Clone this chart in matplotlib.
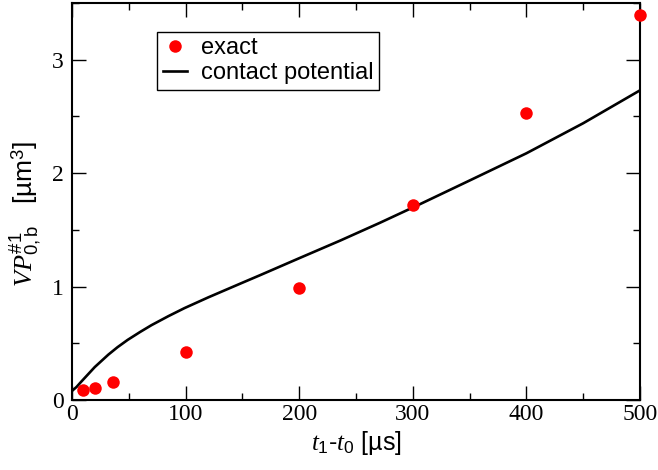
import numpy as np
import matplotlib
matplotlib.use("Agg")
import matplotlib.pyplot as plt
from matplotlib.ticker import MultipleLocator

plt.rcParams["font.family"] = ["Liberation Sans", "DejaVu Sans"]
plt.rcParams["mathtext.fontset"] = "custom"
plt.rcParams["mathtext.rm"] = "Liberation Sans"
plt.rcParams["mathtext.it"] = "Liberation Serif:italic"
plt.rcParams["mathtext.bf"] = "Liberation Sans:bold"

# exact results (red dots)
exact_t = [10, 20, 36, 100, 200, 300, 400, 500]
exact_vp = [0.09, 0.11, 0.16, 0.42, 0.99, 1.72, 2.53, 3.39]

# contact potential curve
contact_t = [0, 4, 8, 14, 20, 26, 32, 40, 49, 60, 70, 85, 99, 120, 130, 150,
             165, 200, 236, 271, 306, 350, 400, 450, 500]
contact_vp = [0.08, 0.115, 0.16, 0.225, 0.29, 0.345, 0.40, 0.465, 0.53, 0.60, 0.66,
              0.74, 0.81, 0.905, 0.948, 1.034, 1.098, 1.25, 1.405, 1.562, 1.725,
              1.935, 2.175, 2.44, 2.73]

fig = plt.figure(figsize=(6.58, 4.70), dpi=100)
ax = fig.add_axes([72 / 658, 70 / 470, 568 / 658, 397 / 470])

ax.plot(contact_t, contact_vp, color="black", lw=1.9, label="contact potential", zorder=2)
ax.plot(exact_t, exact_vp, "o", color="red", ms=9, mec="none", label="exact",
        clip_on=False, zorder=3)

ax.set_xlim(0, 500)
ax.set_ylim(0, 3.5)
ax.xaxis.set_major_locator(MultipleLocator(100))
ax.xaxis.set_minor_locator(MultipleLocator(50))
ax.yaxis.set_major_locator(MultipleLocator(1))
ax.yaxis.set_minor_locator(MultipleLocator(0.5))
ax.tick_params(which="both", direction="in", top=True, right=True, width=1.0)
ax.tick_params(which="major", length=10)
ax.tick_params(which="minor", length=5)
for lab in ax.get_xticklabels() + ax.get_yticklabels():
    lab.set_family("Liberation Serif")
    lab.set_fontsize(17)
ax.tick_params(axis="x", pad=3)
ax.tick_params(axis="y", pad=6)
for sp in ax.spines.values():
    sp.set_linewidth(1.5)

ax.set_xlabel(r"$\mathit{t}_{1}$-$\mathit{t}_{0}$ [µs]", fontsize=18, labelpad=3)
ax.set_ylabel(r"$\mathit{VP}^{\#1}_{0,\mathrm{b}}$   [µm$^{3}$]", fontsize=19)
ax.yaxis.set_label_coords(-0.05, 0.468)

handles, labels = ax.get_legend_handles_labels()
leg = ax.legend(handles[::-1], labels[::-1], loc="upper left",
                bbox_to_anchor=(0.15, 0.928), borderaxespad=0, fontsize=17,
                fancybox=False, framealpha=1, edgecolor="black",
                handlelength=1.0, handletextpad=0.6, borderpad=0.25,
                labelspacing=0.1, markerscale=1.0)
leg.get_frame().set_linewidth(1.0)

fig.savefig("out.png", dpi=100)
